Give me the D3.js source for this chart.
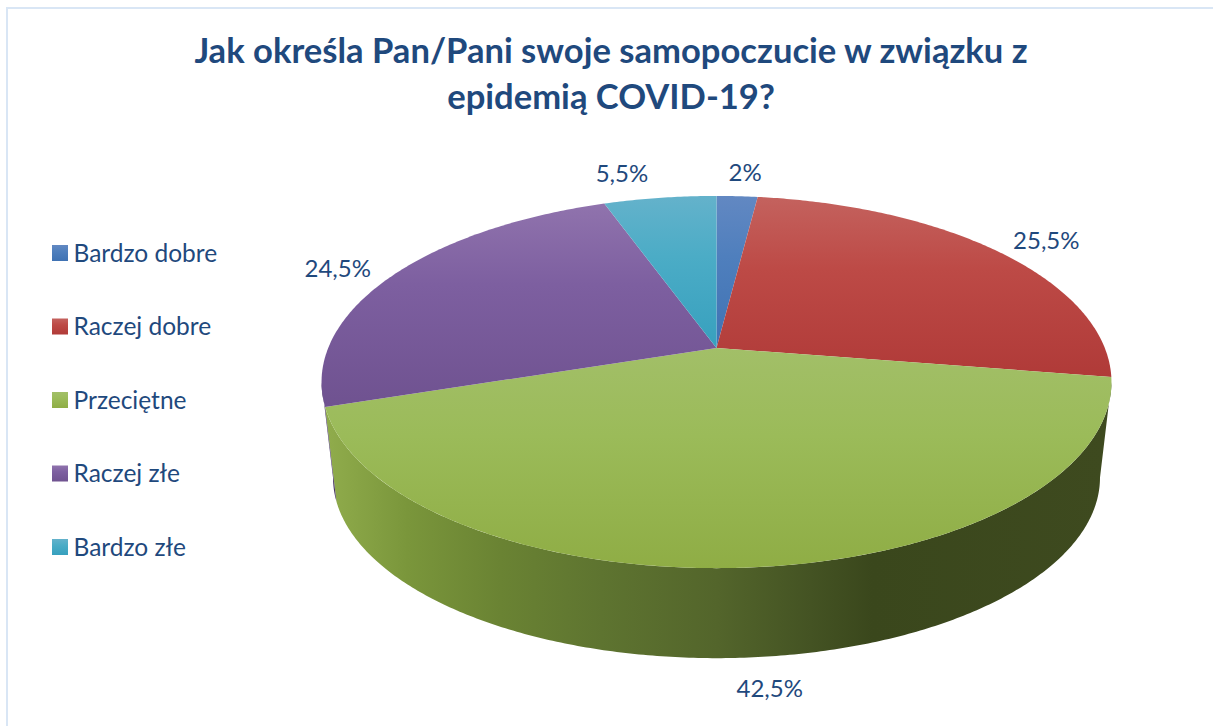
<!DOCTYPE html>
<html>
<head>
<meta charset="utf-8">
<script src="https://d3js.org/d3.v7.min.js"></script>
<style>
	html, body { margin: 0; padding: 0; background: #fff; overflow: hidden; }
	text { font-family: Lato, "Open Sans", sans-serif; fill: #1f497d; }
</style>
</head>
<body>
<script>
var categories = ["Bardzo dobre", "Raczej dobre", "Przeciętne", "Raczej złe", "Bardzo złe"];
var values = [2, 25.5, 42.5, 24.5, 5.5];
var valueLabels = ["2%", "25,5%", "42,5%", "24,5%", "5,5%"];
var titleLines = ["Jak określa Pan/Pani swoje samopoczucie w związku z", "epidemią COVID-19?"];
var topColors = [["#6288c2", "#4f7fbd", "#3f72b3"], ["#c4625e", "#bd4a46", "#b03a38"], ["#a2bf68", "#9bbb59", "#8fad45"], ["#9073ad", "#7d5fa0", "#6f5290"], ["#64b2cb", "#4bacc6", "#37a0be"]];
var sideColors = ["#2f4f7f", "#7a2523", "#4f6228", "#4a3866", "#2a7088"];
var labelNudge = [[8, -24], [50, -10], [16, 121], [-56, -6], [-38, -24]];

var w = 1213,
		h = 726;
var svg = d3.select('body').append('svg').attr("width", w).attr("height", h);
var defs = svg.append('defs');

// camera distance, in pie radii - gives the 3d look of the original
var camera = 5.47;
var topX = d3.scaleLinear().domain([0, 1]).range([716.5, 716.5 + 2124]);
var topY = d3.scaleLinear().domain([0, 1]).range([348, 348 + 984]);
var botX = d3.scaleLinear().domain([0, 1]).range([716.5, 716.5 + 2124 * 0.971]);
var botY = d3.scaleLinear().domain([0, 1]).range([444.4, 444.4 + 984 * 0.971]);

// angle is clockwise from 12 o'clock
function project(angle, r, sx, sy) {
	var px = Math.sin(angle) * r,
			py = -Math.cos(angle) * r;
	return [sx(px / (camera - py)), sy(py / (camera - py))];
}

function arcPoints(a0, a1, sx, sy) {
	var n = Math.max(2, Math.ceil(Math.abs(a1 - a0) / 0.01));
	return d3.range(n + 1).map(function(i) {
		return project(a0 + (a1 - a0) * i / n, 1, sx, sy);
	});
}

var line = d3.line();
var pie = d3.pie().sort(null).value(function(d) { return d; });
var slices = pie(values);

// frame
svg.append('rect')
	.attr("x", 7).attr("y", 8)
	.attr("width", w + 20).attr("height", h + 20)
	.attr("fill", "none")
	.attr("stroke", "#d9e6f5")
	.attr("stroke-width", 2);

// title
svg.append('text')
	.attr("text-anchor", "middle")
	.attr("font-size", 34.6).attr("font-weight", 700)
	.selectAll('tspan').data(titleLines).enter().append('tspan')
	.attr("x", 611)
	.attr("y", function(d, i) { return 63 + i * 45.5; })
	.text(function(d) { return d; });

// gradients
topColors.forEach(function(c, i) {
	var g = defs.append('linearGradient').attr("id", "top" + i)
		.attr("x1", 0).attr("y1", 0).attr("x2", 0).attr("y2", 1);
	g.append('stop').attr("offset", 0).attr("stop-color", c[0]);
	g.append('stop').attr("offset", 0.4).attr("stop-color", c[1]);
	g.append('stop').attr("offset", 1).attr("stop-color", c[2]);
});

var sideGrad = defs.append('linearGradient').attr("id", "sideGreen")
	.attr("gradientUnits", "userSpaceOnUse")
	.attr("x1", 330).attr("y1", 0).attr("x2", 1105).attr("y2", 0);
[[0, "#8fab4b"], [0.1, "#7a963b"], [0.22, "#6a8333"], [0.35, "#5e7430"], [0.5, "#53652b"], [0.62, "#445323"], [0.7, "#3a471c"], [1, "#3e4a1f"]].forEach(function(s) {
	sideGrad.append('stop').attr("offset", s[0]).attr("stop-color", s[1]);
});

// sides: only the front part of the rim can be seen
var visibleFrom = Math.PI - Math.acos(1 / camera),
		visibleTo = Math.PI + Math.acos(1 / camera);
var rim = svg.append('g');
slices.forEach(function(d, i) {
	var a0 = Math.max(d.startAngle, visibleFrom),
			a1 = Math.min(d.endAngle, visibleTo);
	if (a1 <= a0) return;
	var pts = arcPoints(a0, a1, topX, topY).concat(arcPoints(a1, a0, botX, botY));
	rim.append('path')
		.attr("d", line(pts) + "Z")
		.attr("fill", i === 2 ? "url(#sideGreen)" : sideColors[i]);
});

// top faces
var faces = svg.append('g');
slices.forEach(function(d, i) {
	var pts = [project(0, 0, topX, topY)].concat(arcPoints(d.startAngle, d.endAngle, topX, topY));
	faces.append('path')
		.attr("d", line(pts) + "Z")
		.attr("fill", "url(#top" + i + ")");
});

// value labels
svg.append('g').selectAll('text').data(slices).enter().append('text')
	.attr("text-anchor", "middle")
	.attr("font-size", 24)
	.attr("dy", "0.36em")
	.attr("x", function(d, i) { return project((d.startAngle + d.endAngle) / 2, 1, topX, topY)[0] + labelNudge[i][0]; })
	.attr("y", function(d, i) { return project((d.startAngle + d.endAngle) / 2, 1, topX, topY)[1] + labelNudge[i][1]; })
	.text(function(d, i) { return valueLabels[i]; });

// legend
var legendY = d3.scalePoint().domain(categories).range([253, 547]);
var legend = svg.append('g').selectAll('g').data(categories).enter().append('g')
	.attr("transform", function(d) { return "translate(52," + legendY(d) + ")"; });
legend.append('rect')
	.attr("x", 0).attr("y", -8).attr("width", 16).attr("height", 16)
	.attr("fill", function(d, i) { return "url(#top" + i + ")"; });
legend.append('text')
	.attr("x", 21.5).attr("dy", "0.36em")
	.attr("font-size", 24.5)
	.text(function(d) { return d; });
</script>
</body>
</html>
